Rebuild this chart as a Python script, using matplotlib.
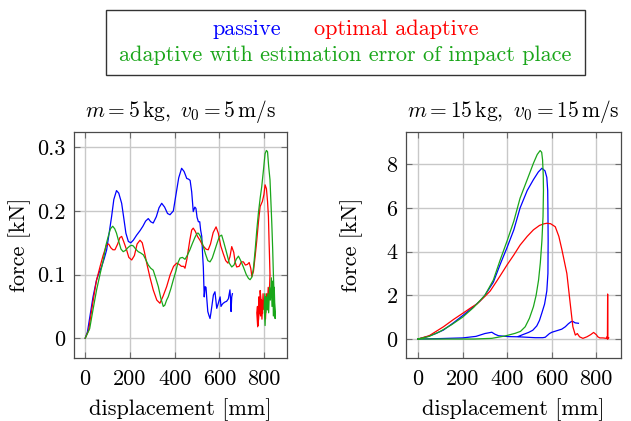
import numpy as np
import matplotlib
matplotlib.use("Agg")
import matplotlib.pyplot as plt
from matplotlib.patches import Rectangle

plt.rcParams["font.family"] = ["cmr10", "DejaVu Serif"]
plt.rcParams["mathtext.fontset"] = "cm"
plt.rcParams["axes.formatter.use_mathtext"] = True
plt.rcParams["axes.unicode_minus"] = False

C_PASSIVE = "#0000ff"
C_OPTIMAL = "#ff0000"
C_ESTERR = "#1aa61a"
NAN = np.nan

# ---------- m = 5 kg, v0 = 5 m/s ----------
low_passive_x = [0, 10, 21, 35, 51, 62, 73, 85, 96, 107, 118, 128, 140, 150, 163, 172, 182, 193,
                 204, 215, 230, 245, 258, 270, 282, 293, 304, 318, 330, 342, 355, 368, 379, 394,
                 405, 418, 431, 442, 454, 462, 469, 476, 483, 490, 495, 500, 506, 512, 516, 521,
                 525, 528, 532, 536, 540, 544, 548, 553, 558, 562, 566, 573, 580, 584, 588, 595,
                 603, 607, 612, 617, 625, 632, 640, 647, 650, 652, 655, 658]
low_passive_y = [0, 0.01, 0.034, 0.065, 0.092, 0.103, 0.112, 0.125, 0.139, 0.165, 0.191, 0.218,
                 0.232, 0.228, 0.212, 0.19, 0.165, 0.152, 0.150, 0.154, 0.162, 0.169, 0.176, 0.184,
                 0.188, 0.183, 0.181, 0.191, 0.205, 0.212, 0.206, 0.196, 0.194, 0.200, 0.224, 0.252,
                 0.267, 0.262, 0.251, 0.25, 0.248, 0.23, 0.199, 0.206, 0.204, 0.19, 0.183, 0.183,
                 0.17, 0.16, 0.13, 0.112, 0.065, 0.081, 0.08, 0.06, 0.042, 0.036, 0.031, 0.04,
                 0.05, 0.068, 0.073, 0.06, 0.047, 0.055, 0.065, 0.05, 0.053, 0.055, 0.057, 0.058,
                 0.062, 0.076, 0.06, 0.042, 0.065, 0.07]

low_optimal_x = [0, 15, 36, 50, 66, 80, 96, 105, 115, 124, 133, 145, 155, 163, 172, 185, 195, 208,
                 220, 232, 245, 255, 265, 275, 290, 304, 320, 334, 348, 364, 380, 395, 409, 420,
                 430, 440, 446, 455, 468, 476, 483, 492, 502, 513, 525, 540, 550, 560, 572, 585,
                 595, 606, 617, 628, 638, 647, 655, 664, 670, 677, 688, 698, 707, 716, 725, 733,
                 740, 745, 752, 760, 767, 775, 782, 792, 799, 804, 810, 815, 819, 822, 823, 826,
                 822, 818, 814, 810, 806, 802, 798, 795, 790, 786, 782, 779, 776, 773, 770, 767,
                 771, 775, 779, 784, 788, 793]
low_optimal_y = [0, 0.012, 0.06, 0.09, 0.112, 0.13, 0.147, 0.148, 0.142, 0.139, 0.139, 0.148,
                 0.158, 0.16, 0.152, 0.139, 0.127, 0.123, 0.13, 0.148, 0.154, 0.15, 0.135, 0.118,
                 0.095, 0.076, 0.06, 0.055, 0.066, 0.081, 0.1, 0.113, 0.118, 0.116, 0.113, 0.113,
                 0.11, 0.125, 0.155, 0.17, 0.173, 0.168, 0.16, 0.154, 0.146, 0.14, 0.139, 0.148,
                 0.166, 0.175, 0.165, 0.145, 0.133, 0.122, 0.118, 0.128, 0.144, 0.135, 0.12, 0.112,
                 0.113, 0.12, 0.12, 0.115, 0.116, 0.119, 0.11, 0.097, 0.105, 0.13, 0.154, 0.185,
                 0.207, 0.215, 0.226, 0.241, 0.235, 0.215, 0.191, 0.15, 0.139, 0.1,
                 0.06, 0.08, 0.045, 0.07, 0.03, 0.06, 0.045, 0.07, 0.03, 0.06, 0.075, 0.04,
                 0.065, 0.02, 0.05, 0.04, 0.018, 0.03, 0.05, 0.035, 0.06, 0.04]

low_esterr_x = [0, 20, 35, 51, 66, 81, 92, 103, 113, 123, 132, 140, 150, 160, 170, 180, 190, 200,
                208, 215, 226, 237, 248, 260, 270, 282, 293, 304, 315, 327, 338, 349, 356, 364,
                371, 383, 394, 405, 414, 424, 435, 446, 456, 468, 478, 490, 500, 506, 515, 528,
                538, 548, 558, 568, 580, 590, 600, 610, 620, 633, 644, 655, 665, 675, 685, 695,
                707, 720, 730, 737, 745, 752, 760, 767, 774, 782, 789, 797, 804, 810, 815, 820,
                826, 830, 834, 838, 841, 845, 849, 845, 841, 839, 835, 832, 828, 824, 820, 816,
                812, 808, 804, 800, 803, 807, 811, 815]
low_esterr_y = [0, 0.015, 0.045, 0.076, 0.1, 0.123, 0.145, 0.16, 0.172, 0.176, 0.172, 0.165,
                0.152, 0.14, 0.136, 0.138, 0.142, 0.145, 0.146, 0.145, 0.14, 0.136, 0.134, 0.131,
                0.124, 0.115, 0.11, 0.107, 0.095, 0.081, 0.063, 0.05, 0.052, 0.06, 0.065, 0.078,
                0.092, 0.105, 0.118, 0.126, 0.127, 0.124, 0.13, 0.139, 0.148, 0.158, 0.165, 0.165,
                0.16, 0.144, 0.132, 0.122, 0.12, 0.126, 0.139, 0.15, 0.16, 0.162, 0.15, 0.133,
                0.118, 0.112, 0.115, 0.124, 0.129, 0.122, 0.112, 0.1, 0.094, 0.092, 0.096, 0.11,
                0.14, 0.17, 0.196, 0.22, 0.238, 0.265, 0.29, 0.295, 0.293, 0.27, 0.249, 0.215,
                0.181, 0.14, 0.102, 0.06, 0.031, 0.08, 0.035, 0.09, 0.05, 0.095, 0.06, 0.08,
                0.04, 0.07, 0.05, 0.065, 0.02, 0.05, 0.07, 0.04, 0.06, 0.045]

# ---------- m = 15 kg, v0 = 15 m/s ----------
high_passive_x = [0, 39, 80, 114, 160, 204, 240, 279, 300, 338, 368, 400, 430, 458, 490, 518, 540,
                  556, 570, 578, 582, 583, 584, 583, 578, 568, 556, 545, 533, 515, 496, 470, 451,
                  NAN,
                  0, 100, 200, 260, 300, 331, 345, 361, 406, 451, 490, 526, 560, 571, 590, 601,
                  623, 645, 661, 675, 688, 696, 705, 720]
high_passive_y = [0, 0.1, 0.25, 0.41, 0.75, 1.1, 1.4, 1.75, 2.0, 2.6, 3.4, 4.2, 5.0, 6.0, 6.8,
                  7.3, 7.65, 7.82, 7.7, 7.4, 6.8, 6.0, 4.5, 3.0, 2.2, 1.6, 1.2, 0.85, 0.6, 0.4,
                  0.3, 0.2, 0.12,
                  NAN,
                  0, 0.02, 0.05, 0.12, 0.25, 0.31, 0.22, 0.15, 0.11, 0.1, 0.08, 0.06, 0.06, 0.08,
                  0.25, 0.31, 0.38, 0.45, 0.56, 0.7, 0.8, 0.8, 0.74, 0.72]

high_optimal_x = [0, 50, 114, 160, 204, 240, 264, 300, 324, 350, 369, 400, 430, 458, 490, 518,
                  545, 563, 578, 595, 616, 632, 646, 668, 683, 690, 695, 706, 715, 725, 740, 758,
                  775, 788, 800, 807, 816, 830, 845, 848, 850, 851, 852, 856]
high_optimal_y = [0, 0.15, 0.56, 0.9, 1.2, 1.45, 1.6, 1.95, 2.2, 2.6, 2.9, 3.4, 3.85, 4.3, 4.7,
                  5.0, 5.2, 5.27, 5.3, 5.28, 5.14, 4.7, 4.08, 3.0, 1.63, 1.0, 0.56, 0.18, 0.25,
                  0.1, 0.03, 0.1, 0.2, 0.3, 0.2, 0.1, 0.05, 0.05, 0.03, 0.1, 0.0, 2.06, 0.0, 0.05]

high_esterr_x = [0, 50, 100, 150, 200, 250, 300, 338, 368, 400, 430, 458, 490, 518, 535, 548,
                 555, 559, 562, 563, 561, 556, 549, 541, 530, 518, 500, 481, 460, 436, 391, 331,
                 250, 0]
high_esterr_y = [0, 0.12, 0.35, 0.65, 1.0, 1.45, 2.0, 2.7, 3.6, 4.5, 5.4, 6.45, 7.3, 8.05, 8.45,
                 8.63, 8.55, 8.2, 7.5, 6.8, 5.6, 4.5, 3.5, 2.7, 2.0, 1.48, 0.95, 0.56, 0.35, 0.26,
                 0.14, 0.03, 0.0, 0.0]

x_ticks = [0, 200, 400, 600, 800]
x_ticklabels = ["0", "200", "400", "600", "800"]
low_yticks = [0, 0.1, 0.2, 0.3]
low_yticklabels = ["0", "0.1", "0.2", "0.3"]
high_yticks = [0, 2, 4, 6, 8]
high_yticklabels = ["0", "2", "4", "6", "8"]

FS = 16
FS_TITLE = 15.5
W, H = 631, 421
fig = plt.figure(figsize=(W / 100, H / 100), dpi=100)


def frac_box(l, t, r, b):
    return [l / W, 1 - b / H, (r - l) / W, (b - t) / H]


def style_axes(ax, yticks, yticklabels, xlim, ylim, title):
    ax.set_xlim(*xlim)
    ax.set_ylim(*ylim)
    ax.set_xticks(x_ticks)
    ax.set_xticklabels(x_ticklabels, fontsize=FS)
    ax.set_yticks(yticks)
    ax.set_yticklabels(yticklabels, fontsize=FS)
    ax.grid(True, color="#c8c8c8", lw=1.0)
    ax.set_axisbelow(True)
    ax.tick_params(direction="in", length=4, width=0.8, color="#6e6e6e",
                   top=True, right=True, pad=8)
    ax.tick_params(axis="y", pad=6)
    for s in ax.spines.values():
        s.set_color("#4a4a4a")
        s.set_linewidth(0.9)
    ax.set_title(title, fontsize=FS_TITLE, pad=11)
    ax.set_xlabel("displacement [mm]", fontsize=FS)
    ax.set_ylabel("force [kN]", fontsize=FS)
    ax.xaxis.label.set_verticalalignment("center")
    ax.yaxis.label.set_verticalalignment("center")


ax1 = fig.add_axes(frac_box(74, 132, 287, 358))
ax1.plot(low_passive_x, low_passive_y, color=C_PASSIVE, lw=0.9)
ax1.plot(low_optimal_x, low_optimal_y, color=C_OPTIMAL, lw=0.9)
ax1.plot(low_esterr_x, low_esterr_y, color=C_ESTERR, lw=0.9)
style_axes(ax1, low_yticks, low_yticklabels, (-50, 902), (-0.031, 0.324),
           r"$m = 5\,\mathrm{kg},\ v_0 = 5\,\mathrm{m/s}$")
ax1.yaxis.set_label_coords((20 - 74) / 213, 0.5)
ax1.xaxis.set_label_coords(0.5, (358 - 410) / 226)

ax2 = fig.add_axes(frac_box(406, 132, 621, 358))
ax2.plot(high_passive_x, high_passive_y, color=C_PASSIVE, lw=0.9)
ax2.plot(high_optimal_x, high_optimal_y, color=C_OPTIMAL, lw=0.9)
ax2.plot(high_esterr_x, high_esterr_y, color=C_ESTERR, lw=0.9)
style_axes(ax2, high_yticks, high_yticklabels, (-54, 911), (-0.87, 9.48),
           r"$m = 15\,\mathrm{kg},\ v_0 = 15\,\mathrm{m/s}$")
ax2.yaxis.set_label_coords((352 - 406) / 215, 0.5)
ax2.xaxis.set_label_coords(0.5, (358 - 410) / 226)

# legend box with coloured entries
fig.patches.append(Rectangle((106 / W, 1 - 75 / H), (585 - 106) / W, (75 - 10.5) / H,
                             transform=fig.transFigure, fill=False,
                             edgecolor="#333333", lw=1.0))
fig.text(247 / W, 1 - 35 / H, "passive", color=C_PASSIVE, fontsize=FS,
         ha="center", va="baseline")
fig.text(396 / W, 1 - 35 / H, "optimal adaptive", color=C_OPTIMAL, fontsize=FS,
         ha="center", va="baseline")
fig.text(345.5 / W, 1 - 61.5 / H, "adaptive with estimation error of impact place",
         color=C_ESTERR, fontsize=FS, ha="center", va="baseline")

fig.savefig("out.png", dpi=100)
